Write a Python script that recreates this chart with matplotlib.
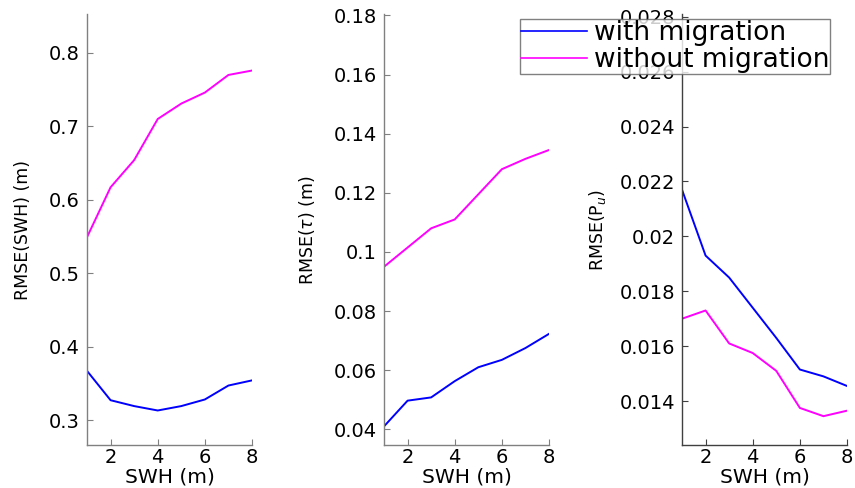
import matplotlib
matplotlib.use("Agg")
import matplotlib.pyplot as plt
from matplotlib.lines import Line2D

plt.rcParams['font.family'] = ['DejaVu Sans']
plt.rcParams['mathtext.fontset'] = 'dejavusans'

swh = [1, 2, 3, 4, 5, 6, 7, 8]

# RMSE(SWH)
swh_with = [0.367, 0.327, 0.319, 0.313, 0.319, 0.328, 0.347, 0.354]
swh_without = [0.549, 0.617, 0.654, 0.710, 0.731, 0.746, 0.770, 0.776]

# RMSE(tau)
tau_with = [0.041, 0.0497, 0.0508, 0.0563, 0.061, 0.0635, 0.0675, 0.0723]
tau_without = [0.095, 0.1015, 0.108, 0.111, 0.1195, 0.128, 0.1315, 0.1345]

# RMSE(Pu)
pu_with = [0.0217, 0.0193, 0.0185, 0.0174, 0.0163, 0.01515, 0.0149, 0.01455]
pu_without = [0.0170, 0.0173, 0.0161, 0.01575, 0.0151, 0.01375, 0.01345, 0.01365]

W, H = 855, 488
fig = plt.figure(figsize=(W / 100, H / 100), dpi=100)

panels = [
    (87, 252, swh_with, swh_without, (0.266, 0.853), [0.3, 0.4, 0.5, 0.6, 0.7, 0.8],
     ["0.3", "0.4", "0.5", "0.6", "0.7", "0.8"], "RMSE(SWH) (m)", 23, "#808080"),
    (384, 549, tau_with, tau_without, (0.0347, 0.1805), [0.04, 0.06, 0.08, 0.1, 0.12, 0.14, 0.16, 0.18],
     ["0.04", "0.06", "0.08", "0.1", "0.12", "0.14", "0.16", "0.18"], r"RMSE($\tau$) (m)", 307, "#808080"),
    (682, 847, pu_with, pu_without, (0.0124, 0.0281), [0.014, 0.016, 0.018, 0.02, 0.022, 0.024, 0.026, 0.028],
     ["0.014", "0.016", "0.018", "0.02", "0.022", "0.024", "0.026", "0.028"], r"RMSE(P$_u$)", 597, "#404040"),
]

top_px, bot_px = 14, 445
for x0, x1, yw, ywo, ylim, yt, ytl, ylab, ylab_x, sc in panels:
    ax = fig.add_axes([x0 / W, 1 - bot_px / H, (x1 - x0) / W, (bot_px - top_px) / H])
    ax.plot(swh, yw, color=(0, 0, 1), lw=1.4)
    ax.plot(swh, ywo, color=(1, 0, 1), lw=1.4)
    ax.set_xlim(1, 8)
    ax.set_ylim(*ylim)
    ax.set_xticks([2, 4, 6, 8])
    ax.set_yticks(yt)
    ax.set_yticklabels(ytl)
    for s in ("top", "right"):
        ax.spines[s].set_visible(False)
    for s in ("left", "bottom"):
        ax.spines[s].set_color(sc)
        ax.spines[s].set_linewidth(1.0)
    ax.tick_params(direction="in", length=4, labelsize=14, colors="black", color=sc, pad=5)
    ax.tick_params(axis="x", pad=2)
    ax.set_xlabel("SWH (m)", fontsize=14.5, labelpad=0.5)
    fig.text(ylab_x / W, 1 - 230 / H, ylab, rotation=90, ha="center", va="center", fontsize=12.5)
    ax.patch.set_alpha(0)

handles = [Line2D([], [], color=(0, 0, 1), lw=1.2), Line2D([], [], color=(1, 0, 1), lw=1.2)]
leg = fig.legend(handles, ["with migration", "without migration"], loc="center",
                 bbox_to_anchor=(675 / W, 1 - 46.5 / H), fontsize=19, frameon=True, fancybox=False,
                 borderpad=0.05, labelspacing=0.05, handlelength=2.5, handletextpad=0.25,
                 borderaxespad=0)
leg.get_frame().set_edgecolor("#606060")
leg.get_frame().set_linewidth(1.0)

fig.savefig("out.png", dpi=100)
